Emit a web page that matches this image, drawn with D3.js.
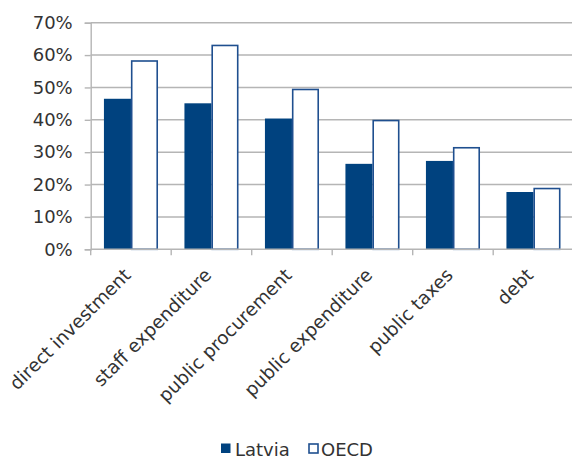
<!DOCTYPE html>
<html>
<head>
<meta charset="utf-8">
<script src="https://cdn.jsdelivr.net/npm/d3@7"></script>
<style>
  html, body { margin: 0; padding: 0; background: #fff; }
  svg { display: block; }
  text { font-family: "DejaVu Sans", sans-serif; fill: #333; }
</style>
</head>
<body>
<svg id="chart" width="572" height="459"></svg>
<script>
// Share of responsibility by area, Latvia vs OECD average
const categories = ["direct investment", "staff expenditure", "public procurement",
                    "public expenditure", "public taxes", "debt"];
const latvia = [0.465, 0.451, 0.404, 0.264, 0.273, 0.177];
const oecd   = [0.584, 0.632, 0.496, 0.400, 0.316, 0.190];
const seriesNames = ["Latvia", "OECD"];
const yTicks = [0, 0.1, 0.2, 0.3, 0.4, 0.5, 0.6, 0.7];

const navy = "#00427f";
const outline = "#1f4f8f";
const gridColor = "#b5b5b5";

const svg = d3.select("#chart");
const plotLeft = 90.7, plotTop = 22.7, plotBottom = 249.3, band = 80.5;

const x = d3.scaleBand().domain(categories)
  .range([plotLeft, plotLeft + band * categories.length])
  .paddingInner(0).paddingOuter(0);
const inner = d3.scaleBand().domain(seriesNames)
  .range([0, x.bandwidth()]).paddingOuter(0.49).paddingInner(0);
const y = d3.scaleLinear().domain([0, 0.7]).range([plotBottom, plotTop]);

// horizontal gridlines
svg.append("g").selectAll("line").data(yTicks.slice(1)).join("line")
  .attr("x1", plotLeft).attr("x2", 572)
  .attr("y1", d => y(d)).attr("y2", d => y(d))
  .attr("stroke", gridColor).attr("stroke-width", 1.4);

// y axis
const yAxis = svg.append("g").attr("transform", `translate(${plotLeft},0)`)
  .call(d3.axisLeft(y).tickValues(yTicks).tickFormat(d3.format(".0%"))
    .tickSize(6).tickPadding(12));
yAxis.select(".domain").attr("stroke", gridColor).attr("stroke-width", 1.4);
yAxis.selectAll(".tick line").attr("stroke", gridColor).attr("stroke-width", 1.4);
yAxis.selectAll(".tick text").attr("font-size", 18).attr("fill", "#333")
  .attr("font-family", "DejaVu Sans");

// bars
const groups = svg.append("g").selectAll("g").data(categories).join("g")
  .attr("transform", d => `translate(${x(d)},0)`);
groups.append("rect")
  .attr("x", inner("Latvia"))
  .attr("width", inner.bandwidth())
  .attr("y", (d, i) => y(latvia[i]))
  .attr("height", (d, i) => y(0) - y(latvia[i]))
  .attr("fill", navy);
groups.append("rect")
  .attr("x", inner("OECD") + 0.75)
  .attr("width", inner.bandwidth() - 1.5)
  .attr("y", (d, i) => y(oecd[i]) + 0.75)
  .attr("height", (d, i) => y(0) - y(oecd[i]) - 0.75)
  .attr("fill", "#fff").attr("stroke", outline).attr("stroke-width", 1.6);

// x axis baseline and boundary ticks
const xAxisG = svg.append("g");
xAxisG.append("line").attr("x1", plotLeft).attr("x2", 572)
  .attr("y1", plotBottom).attr("y2", plotBottom)
  .attr("stroke", gridColor).attr("stroke-width", 1.4);
const bounds = categories.map(c => x(c)).concat([x.range()[1]]);
xAxisG.selectAll("line.b").data(bounds).join("line").attr("class", "b")
  .attr("x1", d => d).attr("x2", d => d)
  .attr("y1", plotBottom).attr("y2", plotBottom + 6)
  .attr("stroke", gridColor).attr("stroke-width", 1.4);

// rotated category labels
svg.append("g").selectAll("text").data(categories).join("text")
  .attr("transform", d => `translate(${x(d) + x.bandwidth() / 2 + 1},${plotBottom + 27}) rotate(-45)`)
  .attr("text-anchor", "end")
  .attr("font-size", 18.4)
  .text(d => d);

// legend
const legend = svg.append("g");
legend.append("rect").attr("x", 221).attr("y", 443.5).attr("width", 9.5).attr("height", 9.5)
  .attr("fill", navy);
legend.append("text").attr("x", 235).attr("y", 456).attr("font-size", 18).text(seriesNames[0]);
legend.append("rect").attr("x", 309).attr("y", 444).attr("width", 9).attr("height", 9)
  .attr("fill", "#fff").attr("stroke", outline).attr("stroke-width", 1.6);
legend.append("text").attr("x", 321).attr("y", 456).attr("font-size", 18).text(seriesNames[1]);
</script>
</body>
</html>
